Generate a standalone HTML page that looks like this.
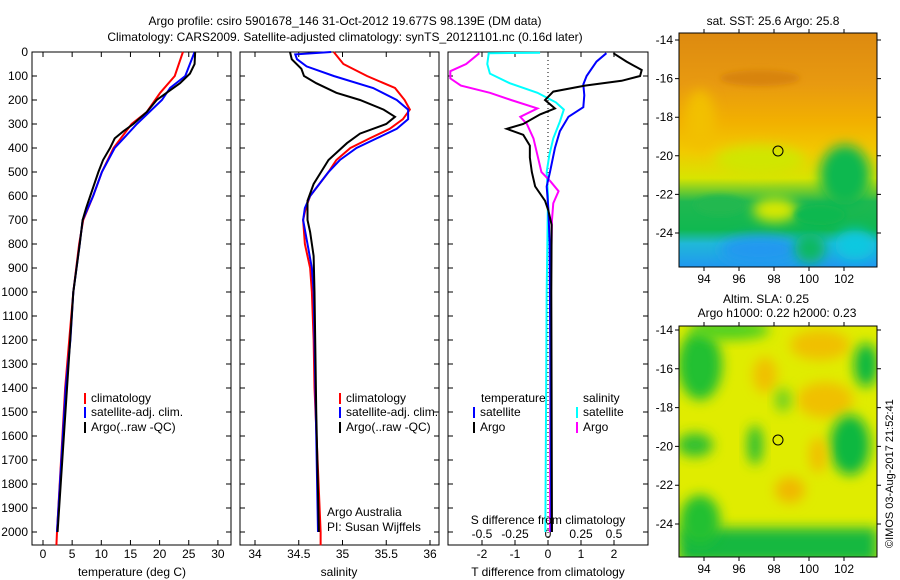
<!DOCTYPE html>
<html><head><meta charset="utf-8"><style>
body{margin:0;background:#fff}
svg{display:block;font-family:"Liberation Sans",sans-serif;font-size:12px}
</style></head><body>
<svg id="c" width="900" height="580" viewBox="0 0 900 580">
<defs>
<filter id="bl" x="-50%" y="-50%" width="200%" height="200%"><feGaussianBlur stdDeviation="6"/></filter>
<filter id="bl2" x="-50%" y="-50%" width="200%" height="200%"><feGaussianBlur stdDeviation="3"/></filter>
<clipPath id="m1"><rect x="679" y="33" width="198" height="234"/></clipPath>
<clipPath id="m2"><rect x="679" y="326" width="198" height="231"/></clipPath>
<linearGradient id="sstg" x1="0" y1="0" x2="0" y2="1">
<stop offset="0" stop-color="#dd8a10"/>
<stop offset="0.22" stop-color="#e89a10"/>
<stop offset="0.38" stop-color="#f2b000"/>
<stop offset="0.5" stop-color="#f2c800"/>
<stop offset="0.62" stop-color="#d8e400"/>
<stop offset="0.72" stop-color="#20b850"/>
<stop offset="0.84" stop-color="#10b850"/>
<stop offset="0.9" stop-color="#20b8d8"/>
<stop offset="1" stop-color="#2098f0"/>
</linearGradient>
</defs>
<text x="345" y="25" text-anchor="middle">Argo profile: csiro 5901678_146 31-Oct-2012 19.677S 98.139E (DM data)</text>
<text x="345" y="41" text-anchor="middle">Climatology: CARS2009. Satellite-adjusted climatology: synTS_20121101.nc (0.16d later)</text>

<!-- SST map -->
<g clip-path="url(#m1)">
<rect x="679" y="33" width="198" height="234" fill="url(#sstg)"/>
<ellipse cx="760" cy="78" rx="40" ry="8" fill="#d88410" filter="url(#bl2)"/>
<ellipse cx="700" cy="120" rx="15" ry="30" fill="#f2c000" filter="url(#bl)"/>
<ellipse cx="760" cy="160" rx="45" ry="15" fill="#d0e600" filter="url(#bl)"/>
<ellipse cx="845" cy="175" rx="25" ry="30" fill="#10b850" filter="url(#bl)"/>
<ellipse cx="720" cy="205" rx="25" ry="10" fill="#20b850" filter="url(#bl2)"/>
<ellipse cx="775" cy="210" rx="22" ry="12" fill="#d8e800" filter="url(#bl)"/>
<ellipse cx="820" cy="215" rx="25" ry="10" fill="#10b850" filter="url(#bl2)"/>
<ellipse cx="760" cy="250" rx="40" ry="14" fill="#2098f0" filter="url(#bl)"/>
<ellipse cx="810" cy="248" rx="15" ry="15" fill="#10b860" filter="url(#bl)"/>
<ellipse cx="855" cy="245" rx="20" ry="15" fill="#10c8e0" filter="url(#bl)"/>
</g>
<rect x="679" y="33" width="198" height="234" fill="none" stroke="#000"/>
<circle cx="778" cy="151" r="5" fill="none" stroke="#000"/>
<text x="773" y="25" text-anchor="middle">sat. SST: 25.6 Argo: 25.8</text>

<!-- SLA map -->
<g clip-path="url(#m2)">
<rect x="679" y="326" width="198" height="231" fill="#e0ec00"/>
<ellipse cx="700" cy="365" rx="22" ry="35" fill="#22c030" filter="url(#bl)"/>
<ellipse cx="730" cy="330" rx="40" ry="10" fill="#50d020" filter="url(#bl)"/>
<ellipse cx="765" cy="375" rx="12" ry="18" fill="#f0c000" filter="url(#bl)"/>
<ellipse cx="820" cy="345" rx="30" ry="15" fill="#f0c000" filter="url(#bl)"/>
<ellipse cx="825" cy="400" rx="28" ry="18" fill="#f0c000" filter="url(#bl)"/>
<ellipse cx="866" cy="365" rx="12" ry="22" fill="#10b840" filter="url(#bl)"/>
<ellipse cx="695" cy="445" rx="18" ry="12" fill="#30c030" filter="url(#bl)"/>
<ellipse cx="755" cy="445" rx="8" ry="20" fill="#30c030" filter="url(#bl)"/>
<ellipse cx="783" cy="400" rx="8" ry="12" fill="#70d020" filter="url(#bl)"/>
<ellipse cx="850" cy="445" rx="20" ry="30" fill="#10b840" filter="url(#bl)"/>
<ellipse cx="790" cy="490" rx="15" ry="13" fill="#f0b800" filter="url(#bl)"/>
<ellipse cx="818" cy="455" rx="9" ry="18" fill="#f0c000" filter="url(#bl)"/>
<rect x="679" y="528" width="198" height="35" fill="#18b840" filter="url(#bl)"/>
<ellipse cx="700" cy="520" rx="20" ry="25" fill="#20c030" filter="url(#bl)"/>
</g>
<rect x="679" y="326" width="198" height="231" fill="none" stroke="#000"/>
<circle cx="778" cy="440" r="5" fill="none" stroke="#000"/>
<text x="766" y="303" text-anchor="middle">Altim. SLA: 0.25</text>
<text x="777" y="317" text-anchor="middle">Argo h1000: 0.22 h2000: 0.23</text>
<text transform="translate(893,548) rotate(-90)" font-size="11">©IMOS 03-Aug-2017 21:52:41</text>

<g id="ax"></g>
</svg>
<script>
// ---- data ----
const depthTicks=[0,100,200,300,400,500,600,700,800,900,1000,1100,1200,1300,1400,1500,1600,1700,1800,1900,2000];
const tempTicks=[0,5,10,15,20,25,30];
const salTicks=[34,34.5,35,35.5,36];
const tdiffTicks=[-2,-1,0,1,2];
const sdiffTicks=[-0.5,-0.25,0,0.25,0.5];
const sdiffTickLabels=["-0.5","-0.25","0","0.25","0.5"];
const latTicks=[-14,-16,-18,-20,-22,-24];
const lonTicks=[94,96,98,100,102];

const tClimD=[0,100,170,250,300,400,500,600,700,800,900,1000,1200,1400,2000,2055];
const tClimV=[24.0,22.6,20.1,17.8,15.2,12.1,10.1,8.6,6.9,6.2,5.7,5.2,4.5,3.8,2.4,2.3];
const tSatD=[0,50,100,150,200,300,400,500,600,700,800,1000,1200,1400,2000];
const tSatV=[26.0,25.2,24.4,21.8,20.4,16.1,12.3,10.1,8.6,6.8,6.3,5.2,4.7,3.9,2.4];
const tArgoD=[0,50,90,130,170,200,250,300,330,360,400,450,500,600,650,700,800,1000,2000];
const tArgoV=[26.1,26.0,25.2,23.5,21.2,19.5,17.8,15.5,13.8,12.3,11.5,10.3,9.5,8.1,7.4,6.8,6.3,5.2,2.5];

const sClimD=[0,50,100,150,200,240,280,320,360,400,450,500,600,650,700,800,900,1000,1200,1400,2000,2055];
const sClimV=[34.90,35.01,35.28,35.60,35.71,35.77,35.69,35.54,35.31,35.09,34.93,34.84,34.63,34.58,34.55,34.57,34.63,34.65,34.67,34.68,34.75,34.75];
const sSatD=[0,10,30,60,100,150,200,240,280,320,360,400,450,500,600,650,700,800,900,1000,1200,2000];
const sSatV=[34.87,34.46,34.48,34.59,34.90,35.35,35.62,35.75,35.75,35.62,35.39,35.16,34.97,34.84,34.63,34.57,34.55,34.60,34.65,34.67,34.68,34.72];
const sArgoD=[0,30,70,100,130,170,200,240,270,300,340,380,450,550,620,700,750,850,1000,1500,2000];
const sArgoV=[34.40,34.42,34.53,34.56,34.70,34.93,35.20,35.47,35.60,35.50,35.20,35.05,34.84,34.67,34.60,34.60,34.63,34.67,34.68,34.70,34.73];

const dTArgoD=[5,40,75,100,120,140,165,200,235,260,300,320,345,390,440,500,560,620,660,720,1000,2000];
const dTArgoV=[1.98,2.38,2.84,2.79,2.23,1.12,0.16,-0.09,0.21,-0.24,-0.75,-1.25,-0.75,-0.55,-0.55,-0.49,-0.39,-0.09,0.01,0.11,0.10,0.12];
const dTSatD=[5,40,100,135,180,230,270,330,400,500,560,650,800,2000];
const dTSatV=[1.77,1.47,1.17,1.07,1.10,1.07,0.62,0.36,0.21,0.06,-0.04,0.01,0.05,0.10];
const dSArgoD=[5,50,80,110,140,170,200,235,270,300,360,430,500,540,580,630,700,1000,2000];
const dSArgoV=[-0.52,-0.62,-0.74,-0.74,-0.66,-0.44,-0.28,-0.08,-0.21,-0.16,-0.11,-0.08,-0.05,0.02,0.08,0.04,0.03,0.02,0.015];
const dSSatD=[3,5,10,50,90,130,170,210,240,290,360,430,500,600,1000,2000];
const dSSatV=[-0.06,-0.45,-0.45,-0.46,-0.44,-0.29,-0.08,0.06,0.12,0.09,0.04,0.01,-0.01,0,-0.01,-0.02];

// ---- scales ----
const TOP=52,BOT=545;
const yD=d=>TOP+d*0.24;
const xT=v=>43+v*5.83;
const xS=v=>255+(v-34)*87.5;
const xDT=v=>548+v*33;
const xDS=v=>548+v*132;
const yLat=v=>40+(-14-v)*19.3;
const yLat2=v=>330+(-14-v)*19.4;
const xLon=v=>704+(v-94)*17.5;

const NS="http://www.w3.org/2000/svg";
const g=document.getElementById('ax');
function mk(tag,at,txt){const e=document.createElementNS(NS,tag);for(const k in at)e.setAttribute(k,at[k]);if(txt!==undefined)e.textContent=txt;g.appendChild(e);return e;}

function panel(x0,x1,name){
  const r=mk('rect',{x:x0,y:TOP,width:x1-x0,height:BOT-TOP,fill:'none',stroke:'#000'});
  
  
  depthTicks.forEach(d=>{
    const t=mk('path',{d:`M${x0},${yD(d)}h5M${x1},${yD(d)}h-5`,stroke:'#000'});
    
    
  });
}
function xticks(vals,labels,xf,x0,name,ly){
  vals.forEach((v,i)=>{
    const t=mk('path',{d:`M${xf(v)},${TOP}v5M${xf(v)},${BOT}v-5`,stroke:'#000'});
    
    
    const l=mk('text',{x:xf(v),y:ly,'text-anchor':'middle'},labels[i]);
    
    
  });
}
function line(D,V,xf,color,name,w){
  const p=mk('polyline',{points:D.map((d,i)=>xf(V[i])+','+yD(d)).join(' '),fill:'none',stroke:color,'stroke-width':w||2});
  
  
}
function legend(x,y,color,txt,name){
  const m=mk('rect',{x:x,y:y-9,width:2,height:11,fill:color});
  
  
  if(txt){const t=mk('text',{x:x+7,y:y},txt);
  
  }
}

depthTicks.forEach(d=>{
  const l=mk('text',{x:28,y:yD(d)+4,'text-anchor':'end'},String(d));
  
  
});

// panel 1
panel(32,231,'temperature-panel');
xticks(tempTicks,tempTicks.map(String),xT,32,'temperature',558);
line(tClimD,tClimV,xT,'#f00','temperature-climatology-line');
line(tSatD,tSatV,xT,'#00f','temperature-satellite-line');
line(tArgoD,tArgoV,xT,'#000','temperature-argo-line');
legend(84,402,'#f00','climatology','temp-legend-climatology');
legend(84,416,'#00f','satellite-adj. clim.','temp-legend-satellite');
legend(84,431,'#000','Argo(..raw -QC)','temp-legend-argo');
let t=mk('text',{x:132,y:576,'text-anchor':'middle'},'temperature (deg C)');



// panel 2
panel(240,439,'salinity-panel');
xticks(salTicks,salTicks.map(String),xS,240,'salinity',558);
line(sClimD,sClimV,xS,'#f00','salinity-climatology-line');
line(sSatD,sSatV,xS,'#00f','salinity-satellite-line');
line(sArgoD,sArgoV,xS,'#000','salinity-argo-line');
legend(339,402,'#f00','climatology','sal-legend-climatology');
legend(339,416,'#00f','satellite-adj. clim.','sal-legend-satellite');
legend(339,431,'#000','Argo(..raw -QC)','sal-legend-argo');
t=mk('text',{x:327,y:516},'Argo Australia');


t=mk('text',{x:327,y:531},'PI: Susan Wijffels');


t=mk('text',{x:339,y:576,'text-anchor':'middle'},'salinity');



// panel 3
panel(448,648,'difference-panel');
xticks(tdiffTicks,tdiffTicks.map(String),xDT,448,'t-diff',558);
sdiffTicks.forEach((v,i)=>{
  const l=mk('text',{x:xDS(v),y:538,'text-anchor':'middle'},sdiffTickLabels[i]);
  
  
});
const z=mk('line',{x1:xDT(0),x2:xDT(0),y1:TOP,y2:BOT,stroke:'#000','stroke-dasharray':'1,3'});


line(dSSatD,dSSatV,xDS,'#0ff','s-diff-satellite-line');
line(dSArgoD,dSArgoV,xDS,'#f0f','s-diff-argo-line');
line(dTSatD,dTSatV,xDT,'#00f','t-diff-satellite-line');
line(dTArgoD,dTArgoV,xDT,'#000','t-diff-argo-line');
t=mk('text',{x:481,y:402},'temperature');


t=mk('text',{x:583,y:402},'salinity');


legend(473,416,'#00f','satellite','diff-legend-t-satellite');
legend(473,431,'#000','Argo','diff-legend-t-argo');
legend(576,416,'#0ff','satellite','diff-legend-s-satellite');
legend(576,431,'#f0f','Argo','diff-legend-s-argo');
t=mk('text',{x:548,y:524,'text-anchor':'middle'},'S difference from climatology');


t=mk('text',{x:548,y:576,'text-anchor':'middle'},'T difference from climatology');



// map axes
function mapAxes(yf,y0,y1,name){
  latTicks.forEach(v=>{
    const tk=mk('path',{d:`M679,${yf(v)}h-4M877,${yf(v)}h4`,stroke:'#000'});
    
    
    const l=mk('text',{x:673,y:yf(v)+4,'text-anchor':'end'},String(v));
    
    
  });
  lonTicks.forEach(v=>{
    const tk=mk('path',{d:`M${xLon(v)},${y1}v4M${xLon(v)},${y0}v-4`,stroke:'#000'});
    
    
    const l=mk('text',{x:xLon(v),y:y1+16,'text-anchor':'middle'},String(v));
    
    
  });
}
mapAxes(yLat,33,267,'sst-map');
mapAxes(yLat2,326,557,'sla-map');
</script>
</body></html>
